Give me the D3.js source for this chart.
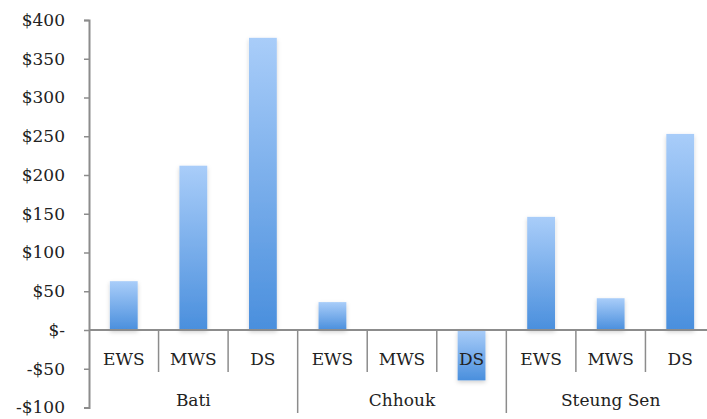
<!DOCTYPE html>
<html lang="en">
<head>
    <meta charset="utf-8">
    <title>Net benefit by season</title>
    <script src="https://d3js.org/d3.v7.min.js"></script>
    <style>
        body { margin: 0; background: #fff; }
        text { font-family: "DejaVu Serif", serif; fill: #222; }
    </style>
</head>
<body>
    <script>
        // categories and values
        const groups = ["Bati", "Chhouk", "Steung Sen"];
        const seasons = ["EWS", "MWS", "DS"];
        const bati = [63, 212, 377];
        const chhouk = [36, -1, -65];
        const steungSen = [146, 41, 253];
        const yTicks = [-100, -50, 0, 50, 100, 150, 200, 250, 300, 350, 400];

        const seriesByGroup = [bati, chhouk, steungSen];
        // flatten into one list of bars
        const data = [];
        groups.forEach((g, gi) => {
            seasons.forEach((s, si) => {
                data.push({ key: g + "|" + s, group: g, season: s, value: seriesByGroup[gi][si] });
            });
        });

        const width = 707, height = 419;
        const margin = { left: 89, right: 715, top: 20, bottom: 407.5 };

        const svg = d3.select("body").append("svg")
            .attr("width", width)
            .attr("height", height);

        // gradient for bars: light at top, darker at bottom
        const defs = svg.append("defs");
        const grad = defs.append("linearGradient")
            .attr("id", "barGrad")
            .attr("x1", 0).attr("y1", 0).attr("x2", 0).attr("y2", 1);
        grad.append("stop").attr("offset", "0%").attr("stop-color", "#a9cdf9");
        grad.append("stop").attr("offset", "100%").attr("stop-color", "#4a8fdd");

        const shadow = defs.append("filter").attr("id", "shadow")
            .attr("x", "-30%").attr("y", "-10%").attr("width", "160%").attr("height", "130%");
        shadow.append("feDropShadow")
            .attr("dx", 0).attr("dy", 2)
            .attr("stdDeviation", 2)
            .attr("flood-color", "#000")
            .attr("flood-opacity", 0.18);

        const x = d3.scaleBand()
            .domain(data.map(d => d.key))
            .range([margin.left, margin.right])
            .paddingInner(0)
            .paddingOuter(0);

        const y = d3.scaleLinear()
            .domain([-100, 400])
            .range([margin.bottom, margin.top]);

        const barW = x.bandwidth() * 0.4;

        // bars
        svg.append("g").selectAll("rect")
            .data(data)
            .join("rect")
            .attr("x", d => x(d.key) + (x.bandwidth() - barW) / 2)
            .attr("y", d => y(Math.max(0, d.value)))
            .attr("width", barW)
            .attr("height", d => Math.abs(y(d.value) - y(0)))
            .attr("fill", "url(#barGrad)")
            .attr("filter", "url(#shadow)");

        // y axis
        const fmt = v => v === 0 ? "$-" : (v < 0 ? "-$" + Math.abs(v) : "$" + v);
        const yAxis = svg.append("g")
            .attr("transform", "translate(" + margin.left + ",0)")
            .call(d3.axisLeft(y).tickValues(yTicks).tickFormat(fmt).tickSize(5).tickPadding(19));
        yAxis.select(".domain").attr("stroke", "#8c8c8c").attr("stroke-width", 2);
        yAxis.selectAll(".tick line").attr("stroke", "#8c8c8c").attr("stroke-width", 1.5);
        yAxis.selectAll(".tick text").style("font-size", "17px").attr("fill", "#222");

        // horizontal zero line
        svg.append("line")
            .attr("x1", margin.left).attr("x2", margin.right)
            .attr("y1", y(0)).attr("y2", y(0))
            .attr("stroke", "#8c8c8c").attr("stroke-width", 2);

        // separators between categories
        const seps = d3.range(1, data.length);
        svg.append("g").selectAll("line")
            .data(seps)
            .join("line")
            .attr("x1", i => x(data[i].key))
            .attr("x2", i => x(data[i].key))
            .attr("y1", y(0))
            .attr("y2", i => i % seasons.length === 0 ? y(0) + 83 : y(0) + 42)
            .attr("stroke", "#8c8c8c")
            .attr("stroke-width", 1.5);

        // season labels
        svg.append("g").selectAll("text")
            .data(data)
            .join("text")
            .attr("x", d => x(d.key) + x.bandwidth() / 2)
            .attr("y", y(0) + 35)
            .attr("text-anchor", "middle")
            .style("font-size", "17px")
            .text(d => d.season);

        // group labels
        svg.append("g").selectAll("text")
            .data(groups)
            .join("text")
            .attr("x", g => x(g + "|" + seasons[1]) + x.bandwidth() / 2)
            .attr("y", y(0) + 76)
            .attr("text-anchor", "middle")
            .style("font-size", "17px")
            .text(g => g);
    </script>
</body>
</html>
